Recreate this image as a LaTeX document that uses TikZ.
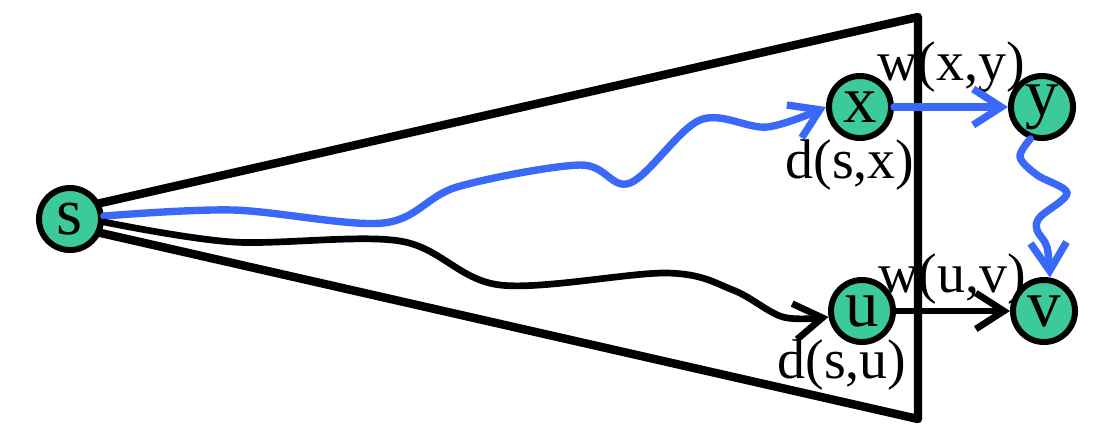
\documentclass[tikz,border=0pt]{standalone}
\usepackage{fontspec}
\setmainfont{Liberation Serif}
\usetikzlibrary{arrows.meta}
\definecolor{nodegreen}{HTML}{3CC99B}
\definecolor{pathblue}{HTML}{3A68F8}
\pgfdeclarelayer{background}
\pgfsetlayers{background,main}
\tikzset{
  vertex/.style={circle, draw=black, line width=1.7pt, fill=nodegreen, minimum size=0.62cm, inner sep=0pt, font=\fontsize{19}{20}\selectfont},
  lbl/.style={anchor=base, inner sep=0pt, font=\fontsize{15.9}{18}\selectfont},
  frame/.style={line width=2.4pt, line join=round},
  bluepath/.style={pathblue, line width=2.1pt, line cap=round, -{Straight Barb[length=2.8mm,width=3.6mm]}},
  blackpath/.style={black, line width=1.9pt, line cap=round, -{Straight Barb[length=2.8mm,width=3.6mm]}},
}
\begin{document}
\begin{tikzpicture}[x=0.01cm, y=-0.01cm]
\useasboundingbox (0,0) rectangle (1106,432);
% vertices
\node[vertex] (s) at (70,219) {s};
\node[vertex] (x) at (860,107) {x};
\node[vertex] (y) at (1042,107) {y};
\node[vertex] (u) at (862,311) {u};
\node[vertex] (v) at (1044,311) {v};
% weights and distances
\begin{pgfonlayer}{background}
\node[lbl] (wxy) at (951,80) {w(x,y)};
\node[lbl] (dsx) at (850,178) {d(s,x)};
\node[lbl] (wuv) at (952,292) {w(u,v)};
\node[lbl] (dsu) at (842,378) {d(s,u)};
\draw[frame] (70,210) -- (918,17) -- (918,419) -- (70,226);
\end{pgfonlayer}
% shortest paths
\draw[bluepath] plot[smooth, tension=0.55] coordinates {(s.5) (233,210) (383,223) (457,187) (580,165) (630,183) (700,120) (767,127) (x.west)};
\draw[blackpath] plot[smooth, tension=0.55] coordinates {(s.-5) (233,242) (400,241) (500,285) (667,273) (733,290) (783,317) (u.190)};
\draw[bluepath] (x) -- (y);
\draw[bluepath] plot[smooth, tension=0.55] coordinates {(y.250) (1020,157) (1037,175) (1067,193) (1040,217) (1037,230) (1047,247) (v.80)};
\draw[blackpath] (u) -- (v);
\end{tikzpicture}
\end{document}
